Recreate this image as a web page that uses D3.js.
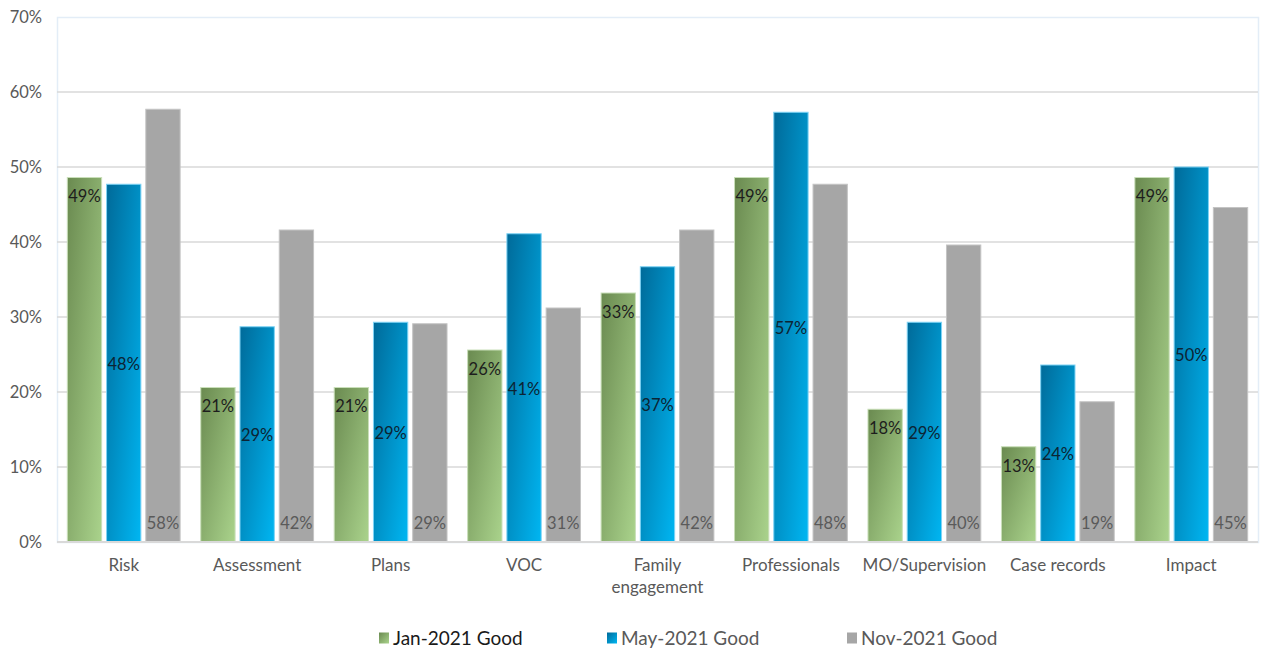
<!DOCTYPE html>
<html>
<head>
<meta charset="utf-8">
<script src="https://cdn.jsdelivr.net/npm/d3@7"></script>
<style>
  html, body { margin: 0; padding: 0; background: #ffffff; }
  svg { display: block; font-family: Lato, "Open Sans", sans-serif; }
</style>
</head>
<body>
<svg id="chart" width="1261" height="650"></svg>
<script>
// Audit themes and the share of cases rated "Good" in each round
const categories = ["Risk", "Assessment", "Plans", "VOC", "Family engagement",
                    "Professionals", "MO/Supervision", "Case records", "Impact"];
const seriesNames = ["Jan-2021 Good", "May-2021 Good", "Nov-2021 Good"];
const jan2021 = [0.486, 0.206, 0.206, 0.256, 0.332, 0.486, 0.177, 0.127, 0.486];
const may2021 = [0.477, 0.287, 0.293, 0.411, 0.367, 0.573, 0.293, 0.236, 0.500];
const nov2021 = [0.577, 0.416, 0.291, 0.312, 0.416, 0.477, 0.396, 0.187, 0.446];
const yTicks = [0, 0.1, 0.2, 0.3, 0.4, 0.5, 0.6, 0.7];

const seriesValues = [jan2021, may2021, nov2021];

const svg = d3.select("#chart");
const margin = { left: 57, right: 3, top: 17, bottom: 108 };
const W = 1261, H = 650;
const plotW = W - margin.left - margin.right;
const plotH = H - margin.top - margin.bottom;

// Gradients for the two coloured series
const defs = svg.append("defs");
function diagGradient(id, from, to) {
  const g = defs.append("linearGradient").attr("id", id)
    .attr("x1", 0).attr("y1", 0).attr("x2", 1).attr("y2", 1);
  g.append("stop").attr("offset", "0%").attr("stop-color", from);
  g.append("stop").attr("offset", "100%").attr("stop-color", to);
}
diagGradient("gGreen", "#6a8a50", "#aad38c");
diagGradient("gBlue", "#006a99", "#00b6f2");

const fills = ["url(#gGreen)", "url(#gBlue)", "#a6a6a6"];
const strokes = ["#c9dfb9", "#7fd3f5", "#c4c4c4"];
const swatch = ["url(#gGreen)", "url(#gBlue)", "#a6a6a6"];
const labelColors = ["#1d1d1d", "#0c2433", "#5a5a5a"];

const g = svg.append("g").attr("transform", `translate(${margin.left},${margin.top})`);

const y = d3.scaleLinear().domain([0, 0.7]).range([plotH, 0]);
const x0 = d3.scaleBand().domain(categories).range([0, plotW]).padding(0);
const x1 = d3.scaleBand().domain(seriesNames).range([0, x0.bandwidth()])
  .paddingInner(0.1).paddingOuter(0.25);

// Plot area frame
g.append("rect").attr("x", 0.5).attr("y", 0.5)
  .attr("width", plotW).attr("height", plotH)
  .attr("fill", "none").attr("stroke", "#e3edf7").attr("stroke-width", 1.5);

// Gridlines
g.append("g").selectAll("line").data(yTicks.filter(t => t > 0 && t < 0.7)).join("line")
  .attr("x1", 0).attr("x2", plotW)
  .attr("y1", d => y(d)).attr("y2", d => y(d))
  .attr("stroke", "#d9d9d9").attr("stroke-width", 1.5);

// Y axis labels
const yAxis = d3.axisLeft(y).tickValues(yTicks).tickFormat(d3.format(".0%")).tickSize(0).tickPadding(15);
const ya = g.append("g").call(yAxis);
ya.select(".domain").remove();
ya.selectAll("text").attr("fill", "#595959").style("font-size", "16.5px")
  .style("font-family", "Lato, 'Open Sans', sans-serif");

// Bars
const groups = g.append("g").selectAll("g").data(categories).join("g")
  .attr("transform", d => `translate(${x0(d)},0)`);

const cells = groups.selectAll("g.cell")
  .data((c, ci) => seriesNames.map((s, si) => ({ s, si, v: seriesValues[si][ci] })))
  .join("g").attr("class", "cell");

cells.append("rect")
  .attr("x", d => x1(d.s) + 0.5)
  .attr("y", d => y(d.v))
  .attr("width", x1.bandwidth() - 1)
  .attr("height", d => y(0) - y(d.v))
  .attr("fill", d => fills[d.si])
  .attr("stroke", d => strokes[d.si])
  .attr("stroke-width", 1);

// Data labels: Jan at inside end, May centred, Nov at inside base
const fmt = d3.format(".0%");
cells.append("text")
  .attr("x", d => x1(d.s) + x1.bandwidth() / 2)
  .attr("y", d => {
    if (d.si === 0) return y(d.v) + 19;
    if (d.si === 1) return (y(d.v) + y(0)) / 2 + 1;
    return y(0) - 19;
  })
  .attr("dy", "0.35em")
  .attr("text-anchor", "middle")
  .attr("fill", d => labelColors[d.si])
  .style("font-size", "16.5px")
  .text(d => fmt(d.v));

// Baseline
g.append("line").attr("x1", 0).attr("x2", plotW)
  .attr("y1", y(0)).attr("y2", y(0))
  .attr("stroke", "#d9d9d9").attr("stroke-width", 2);

// Category labels (wrapped where needed)
const catLabels = g.append("g").selectAll("text").data(categories).join("text")
  .attr("x", d => x0(d) + x0.bandwidth() / 2)
  .attr("y", plotH + 29)
  .attr("text-anchor", "middle")
  .attr("fill", "#595959")
  .style("font-size", "17px");
catLabels.each(function (d) {
  const words = d === "Family engagement" ? ["Family", "engagement"] : [d];
  const t = d3.select(this);
  words.forEach((w, i) => {
    t.append("tspan").attr("x", x0(d) + x0.bandwidth() / 2)
      .attr("dy", i === 0 ? 0 : 22).text(w);
  });
});

// Legend
const legendX = [379, 607, 847];
const legendColors = ["#1a1a1a", "#595959", "#595959"];
const lg = svg.append("g").selectAll("g").data(seriesNames).join("g")
  .attr("transform", (d, i) => `translate(${legendX[i]},638)`);
lg.append("rect").attr("x", 0).attr("y", -5.5).attr("width", 10).attr("height", 11)
  .attr("fill", (d, i) => swatch[i]);
lg.append("text").attr("x", 14).attr("dy", "0.35em")
  .attr("fill", (d, i) => legendColors[i])
  .style("font-size", "19px")
  .text(d => d);
</script>
</body>
</html>
